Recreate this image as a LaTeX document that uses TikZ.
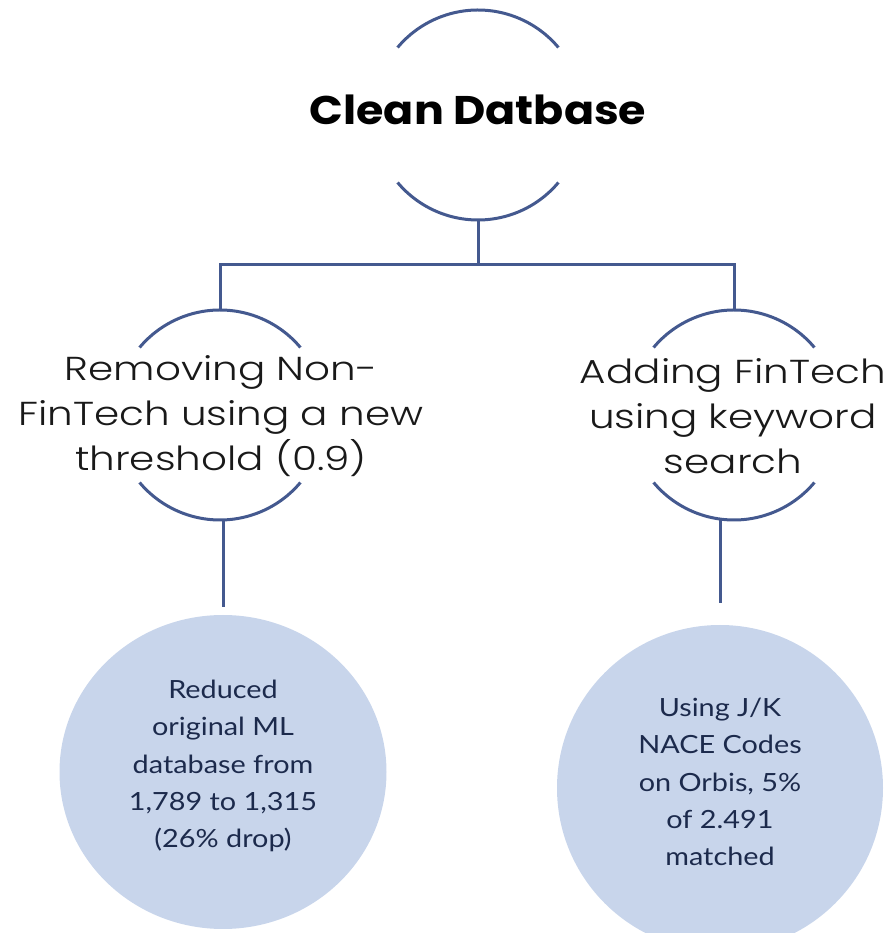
\documentclass[tikz,border=0pt]{standalone}
\usepackage{fontspec}
\newfontfamily\headfont{Poppins}[FakeStretch=1.11]
\newfontfamily\midfont{Poppins Light}[FakeStretch=1.22]
\newfontfamily\notefont{Lato}[FakeStretch=1.15]
\usetikzlibrary{calc,shapes.geometric}
\definecolor{linkblue}{HTML}{44598F}
\definecolor{bubblefill}{HTML}{C8D5EB}
\definecolor{notetext}{HTML}{1C2A4C}

\begin{document}
\begin{tikzpicture}[x=0.75pt,y=0.75pt,
  link/.style={draw=linkblue,line width=2.25pt},
  arcline/.style={draw=linkblue,line width=2.25pt},
  headlbl/.style={font=\headfont\bfseries\fontsize{30}{36}\selectfont,text=black,inner sep=0pt},
  steplbl/.style={font=\midfont\fontsize{24.9}{33.75}\selectfont,align=center,text=black!90,inner sep=0pt},
  bubble/.style={fill=bubblefill,draw=none,inner sep=0pt},
  bubbletext/.style={align=center,font=\notefont\fontsize{18.8}{28}\selectfont,text=notetext,inner sep=0pt}]
\clip (0,0) rectangle (894,933);

% centres of the three open circles
\coordinate (cdb)  at (478,818);
\coordinate (crem) at (220,518);
\coordinate (cadd) at (734,518);

% open circles: an arc above and an arc below each label
\foreach \c in {cdb,crem,cadd} {
  \draw[arcline] ($(\c)+(40:105)$) arc[start angle=40,end angle=140,radius=105];
  \draw[arcline] ($(\c)+(220:105)$) arc[start angle=220,end angle=320,radius=105];
}
\coordinate (dbS)  at ($(cdb)+(0,-105)$);
\coordinate (remN) at ($(crem)+(0,105)$);
\coordinate (remS) at ($(crem)+(0,-105)$);
\coordinate (addN) at ($(cadd)+(0,105)$);
\coordinate (addS) at ($(cadd)+(0,-105)$);
\coordinate (bus)  at (478,668);

% labels
\node[headlbl,anchor=base] (db) at (478,808) {Clean Datbase};
\node[steplbl] (rem) at (221,517) {Removing Non-\\FinTech using a new\\threshold (0.9)};
\node[steplbl] (add) at (733,517) {Adding FinTech\\using keyword\\search};

% result bubbles
\node[bubble,ellipse,minimum width=245.25pt,minimum height=235.5pt] (redux) at (223,161) {};
\node[bubble,circle,minimum size=244.5pt] (match) at (720,145) {};
\node[bubbletext] (reduxtxt) at ($(redux.center)+(0,6)$)
  {Reduced\\original ML\\database from\\1,789 to 1,315\\(26\% drop)};
\node[bubbletext] (matchtxt) at ($(match.center)+(0,6)$)
  {Using J/K\\NACE Codes\\on Orbis, 5\%\\of 2.491\\matched};

% tree connectors
\draw[link] (dbS) -- (bus);
\draw[link] (remN) |- (bus) -| (addN);
\draw[link] (remS -| redux.north) -- ([yshift=6pt]redux.north);
\draw[link] (addS -| match.north) -- ([yshift=16.5pt]match.north);
\end{tikzpicture}
\end{document}
